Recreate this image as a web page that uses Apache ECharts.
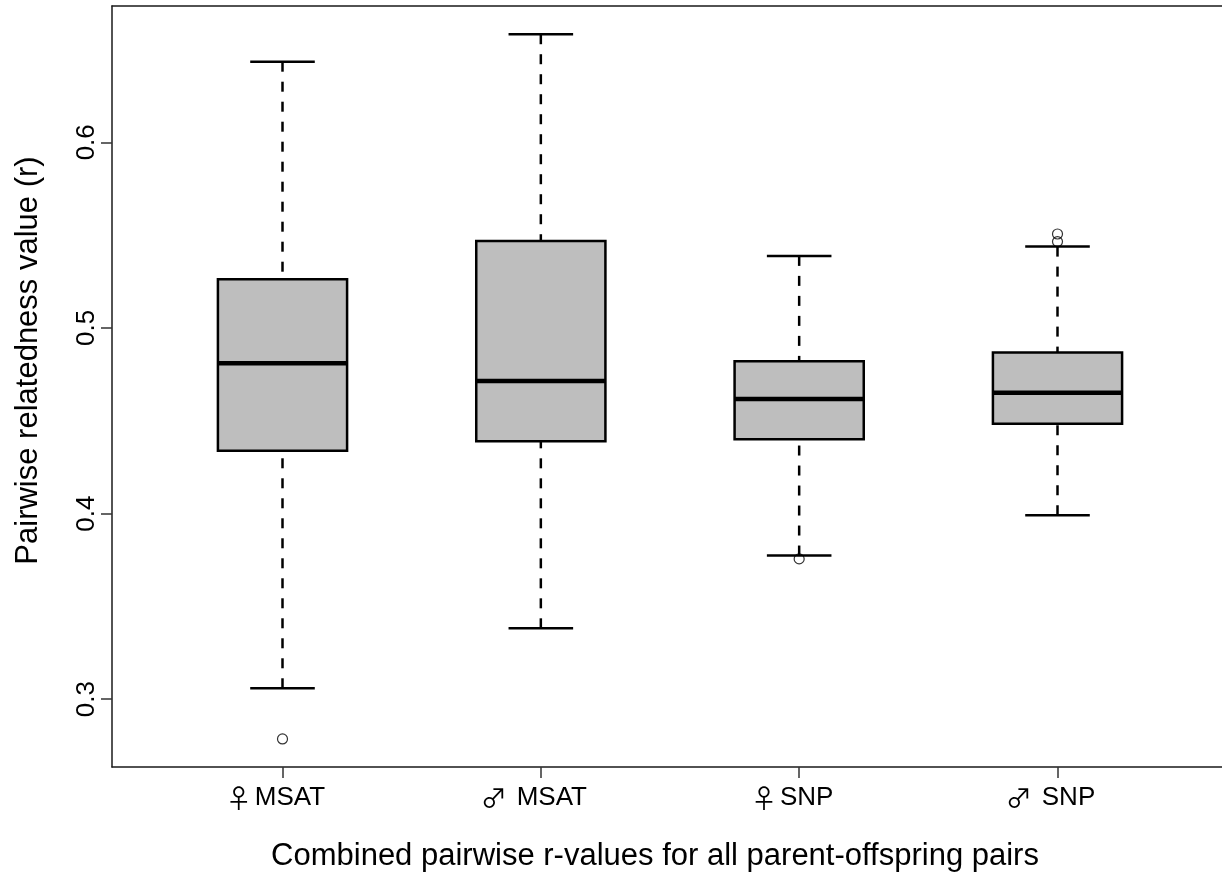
<!DOCTYPE html>
<html>
<head>
<meta charset="utf-8">
<script src="https://cdn.jsdelivr.net/npm/echarts@6/dist/echarts.min.js"></script>
<style>
html,body{margin:0;padding:0;background:#fff;}
#chart{width:1222px;height:875px;}
</style>
</head>
<body>
<div id="chart"></div>
<script>
// ---- data ----
const symbols      = ['\u2640', '\u2642', '\u2640', '\u2642'];
const categories   = ['MSAT', 'MSAT', 'SNP', 'SNP'];
const lowerWhisker = [0.3059, 0.3382, 0.3774, 0.3991];
const q1Values     = [0.4339, 0.4390, 0.4400, 0.4484];
const medianValues = [0.4810, 0.4714, 0.4617, 0.4651];
const q3Values     = [0.5262, 0.5468, 0.4820, 0.4867];
const upperWhisker = [0.6434, 0.6582, 0.5388, 0.5438];
const outlierGroup = [1, 3, 4, 4];
const outlierValue = [0.2786, 0.3756, 0.5465, 0.5506];
const yTickValues  = [0.3, 0.4, 0.5, 0.6];
const xTitle = 'Combined pairwise r-values for all parent-offspring pairs';
const yTitle = 'Pairwise relatedness value (r)';

const boxData = categories.map((c, i) => [i + 1, lowerWhisker[i], q1Values[i], medianValues[i], q3Values[i], upperWhisker[i]]);
const outlierData = outlierGroup.map((g, i) => [g, outlierValue[i]]);
const xPositions = categories.map((c, i) => i + 1);

const FONT = "'Liberation Sans', Arial, Helvetica, sans-serif";
const SYM_FONT = "'Noto Sans CJK JP', 'DejaVu Sans', sans-serif";
const X_MIN = 0.34, X_MAX = 4.66;
const FRAME = {color: '#1a1a1a', width: 1.5};

function renderBox(params, api) {
  const x = api.value(0);
  const lo = api.value(1), q1 = api.value(2), md = api.value(3), q3 = api.value(4), hi = api.value(5);
  const half = 0.25, capHalf = 0.125;
  const pLo = api.coord([x, lo]);
  const pHi = api.coord([x, hi]);
  const pQ1 = api.coord([x, q1]);
  const pQ3 = api.coord([x, q3]);
  const bl = api.coord([x - half, q1]);
  const tr = api.coord([x + half, q3]);
  const mL = api.coord([x - half, md]);
  const mR = api.coord([x + half, md]);
  const cL = api.coord([x - capHalf, lo]);
  const cR = api.coord([x + capHalf, lo]);
  const cLh = api.coord([x - capHalf, hi]);
  const cRh = api.coord([x + capHalf, hi]);
  const dash = {stroke: '#000', lineWidth: 2.5, lineDash: [10, 10]};
  const solid = {stroke: '#000', lineWidth: 2.5};
  return {
    type: 'group',
    children: [
      {type: 'line', shape: {x1: pHi[0], y1: pHi[1], x2: pQ3[0], y2: pQ3[1]}, style: dash},
      {type: 'line', shape: {x1: pLo[0], y1: pLo[1], x2: pQ1[0], y2: pQ1[1]}, style: dash},
      {type: 'line', shape: {x1: cLh[0], y1: cLh[1], x2: cRh[0], y2: cRh[1]}, style: solid},
      {type: 'line', shape: {x1: cL[0], y1: cL[1], x2: cR[0], y2: cR[1]}, style: solid},
      {type: 'rect', shape: {x: bl[0], y: tr[1], width: tr[0] - bl[0], height: bl[1] - tr[1]},
        style: {fill: '#bebebe', stroke: '#000', lineWidth: 2.5}},
      {type: 'line', shape: {x1: mL[0], y1: mL[1], x2: mR[0], y2: mR[1]}, style: {stroke: '#000', lineWidth: 4.5}}
    ]
  };
}

const chart = echarts.init(document.getElementById('chart'), null, {renderer: 'canvas'});
chart.setOption({
  animation: false,
  backgroundColor: '#fff',
  grid: {
    show: false, left: 112, top: 6, right: -6, bottom: 108,
    containLabel: false, outerBoundsMode: 'none'
  },
  xAxis: [
    {
      type: 'value', min: X_MIN, max: X_MAX, position: 'bottom',
      name: xTitle, nameLocation: 'middle', nameGap: 74,
      nameTextStyle: {fontFamily: FONT, fontSize: 31, color: '#000', padding: [0, 30, 0, 0]},
      axisLine: {show: true, onZero: false, lineStyle: FRAME},
      splitLine: {show: false},
      axisTick: {show: true, customValues: xPositions, length: 11, lineStyle: {color: '#333', width: 1.5}},
      axisLabel: {
        show: true, customValues: xPositions, margin: 18,
        formatter: v => {
          const i = Math.round(v) - 1;
          const key = symbols[i] === '\u2640' ? 'f' : 'm';
          return '{' + key + '|' + symbols[i] + '}{t|' + categories[i] + '}';
        },
        fontFamily: FONT, fontSize: 26, color: '#000',
        rich: {
          f: {fontFamily: SYM_FONT, fontSize: 26, color: '#000', padding: [0, 3, 0, 0]},
          m: {fontFamily: SYM_FONT, fontSize: 26, color: '#000', padding: [0, 10, 0, 0]},
          t: {fontFamily: FONT, fontSize: 26, color: '#000', padding: [0, 14, 0, 0]}
        }
      }
    },
    {
      type: 'value', min: X_MIN, max: X_MAX, position: 'top',
      axisLine: {show: true, onZero: false, lineStyle: FRAME},
      axisTick: {show: false}, axisLabel: {show: false}, splitLine: {show: false}
    }
  ],
  yAxis: {
    type: 'value', min: 0.2635, max: 0.6734,
    name: yTitle, nameLocation: 'middle', nameGap: 68, nameRotate: 90,
    nameTextStyle: {fontFamily: FONT, fontSize: 31, color: '#000', padding: [0, 0, 0, 52]},
    axisLine: {show: true, onZero: false, lineStyle: FRAME},
    splitLine: {show: false},
    axisTick: {show: true, customValues: yTickValues, length: 11, lineStyle: {color: '#333', width: 1.5}},
    axisLabel: {
      show: true, customValues: yTickValues, rotate: 90, margin: 12,
      formatter: v => Number(v).toFixed(1),
      fontFamily: FONT, fontSize: 26, color: '#000'
    }
  },
  series: [
    {
      type: 'custom', name: 'boxes', renderItem: renderBox,
      data: boxData, encode: {x: 0, y: [1, 2, 3, 4, 5]}, clip: true, z: 2
    },
    {
      type: 'scatter', name: 'outliers', data: outlierData,
      symbol: 'circle', symbolSize: 10,
      itemStyle: {color: 'rgba(0,0,0,0)', borderColor: '#000', borderWidth: 1.2},
      z: 3
    }
  ]
});
</script>
</body>
</html>
